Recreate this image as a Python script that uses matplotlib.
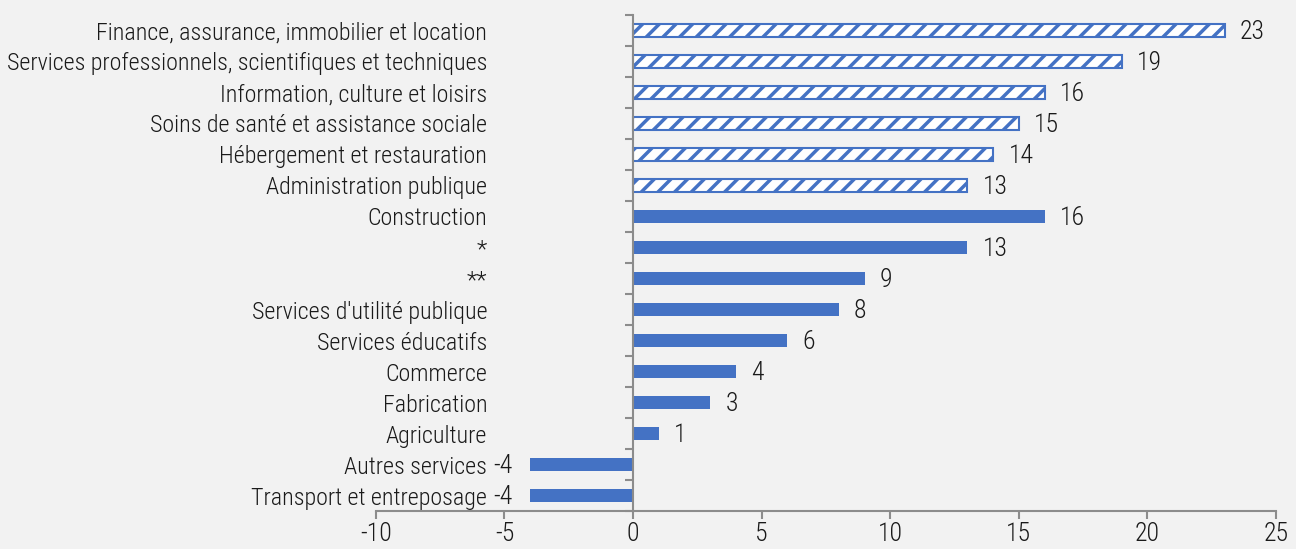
import matplotlib.pyplot as plt
import numpy as np

# secteurs, du haut vers le bas
secteurs = [
    "Finance, assurance, immobilier et location",
    "Services professionnels, scientifiques et techniques",
    "Information, culture et loisirs",
    "Soins de santé et assistance sociale",
    "Hébergement et restauration",
    "Administration publique",
    "Construction",
    "*",
    "**",
    "Services d'utilité publique",
    "Services éducatifs",
    "Commerce",
    "Fabrication",
    "Agriculture",
    "Autres services",
    "Transport et entreposage",
]
valeurs = [23, 19, 16, 15, 14, 13, 16, 13, 9, 8, 6, 4, 3, 1, -4, -4]
hachure = [True] * 6 + [False] * 10

bleu = "#4472C4"
gris = "#8c8c8c"
fond = "#f2f2f2"
texte = "#1a1a1a"

plt.rcParams["font.family"] = ["Roboto Condensed", "DejaVu Sans"]
plt.rcParams["font.weight"] = 300
plt.rcParams["axes.unicode_minus"] = False
plt.rcParams["hatch.linewidth"] = 2.5
plt.rcParams["hatch.color"] = bleu

fig = plt.figure(figsize=(12.96, 5.49), dpi=100, facecolor=fond)
ax = fig.add_axes([0.290, 0.0692, 0.6946, 0.9035], facecolor=fond)

y = np.arange(len(secteurs))[::-1]
for yi, v, h in zip(y, valeurs, hachure):
    if h:
        ax.barh(yi, v, height=0.40, color="white", edgecolor=bleu,
                hatch="//", linewidth=1.5)
    else:
        ax.barh(yi, v, height=0.42, color=bleu, linewidth=0)
    if v >= 0:
        ax.annotate(str(v), (v, yi), xytext=(11, -1), textcoords="offset points",
                    ha="left", va="center", fontsize=18.5, color=texte)
    else:
        ax.annotate(str(v), (v, yi), xytext=(-13, -1), textcoords="offset points",
                    ha="right", va="center", fontsize=18.5, color=texte)

ax.set_xlim(-10, 25)
ax.set_ylim(-0.5, len(secteurs) - 0.5)
ax.set_xticks(range(-10, 26, 5))
ax.set_yticks(y)
ax.set_yticklabels(secteurs)
ax.set_yticks(np.arange(-0.5, len(secteurs), 1), minor=True)

ax.spines["left"].set_position(("data", 0))
for s in ["top", "right"]:
    ax.spines[s].set_visible(False)
for s in ["left", "bottom"]:
    ax.spines[s].set_color(gris)
    ax.spines[s].set_linewidth(1.5)

ax.tick_params(axis="y", which="major", length=0, pad=105, labelsize=17.3,
               labelcolor=texte)
ax.tick_params(axis="y", which="minor", length=6, width=1.5, color=gris)
ax.tick_params(axis="x", length=6, width=1.5, color=gris, labelsize=18.5,
               labelcolor=texte, pad=2)

fig.savefig("out.png", dpi=100, facecolor=fond)
